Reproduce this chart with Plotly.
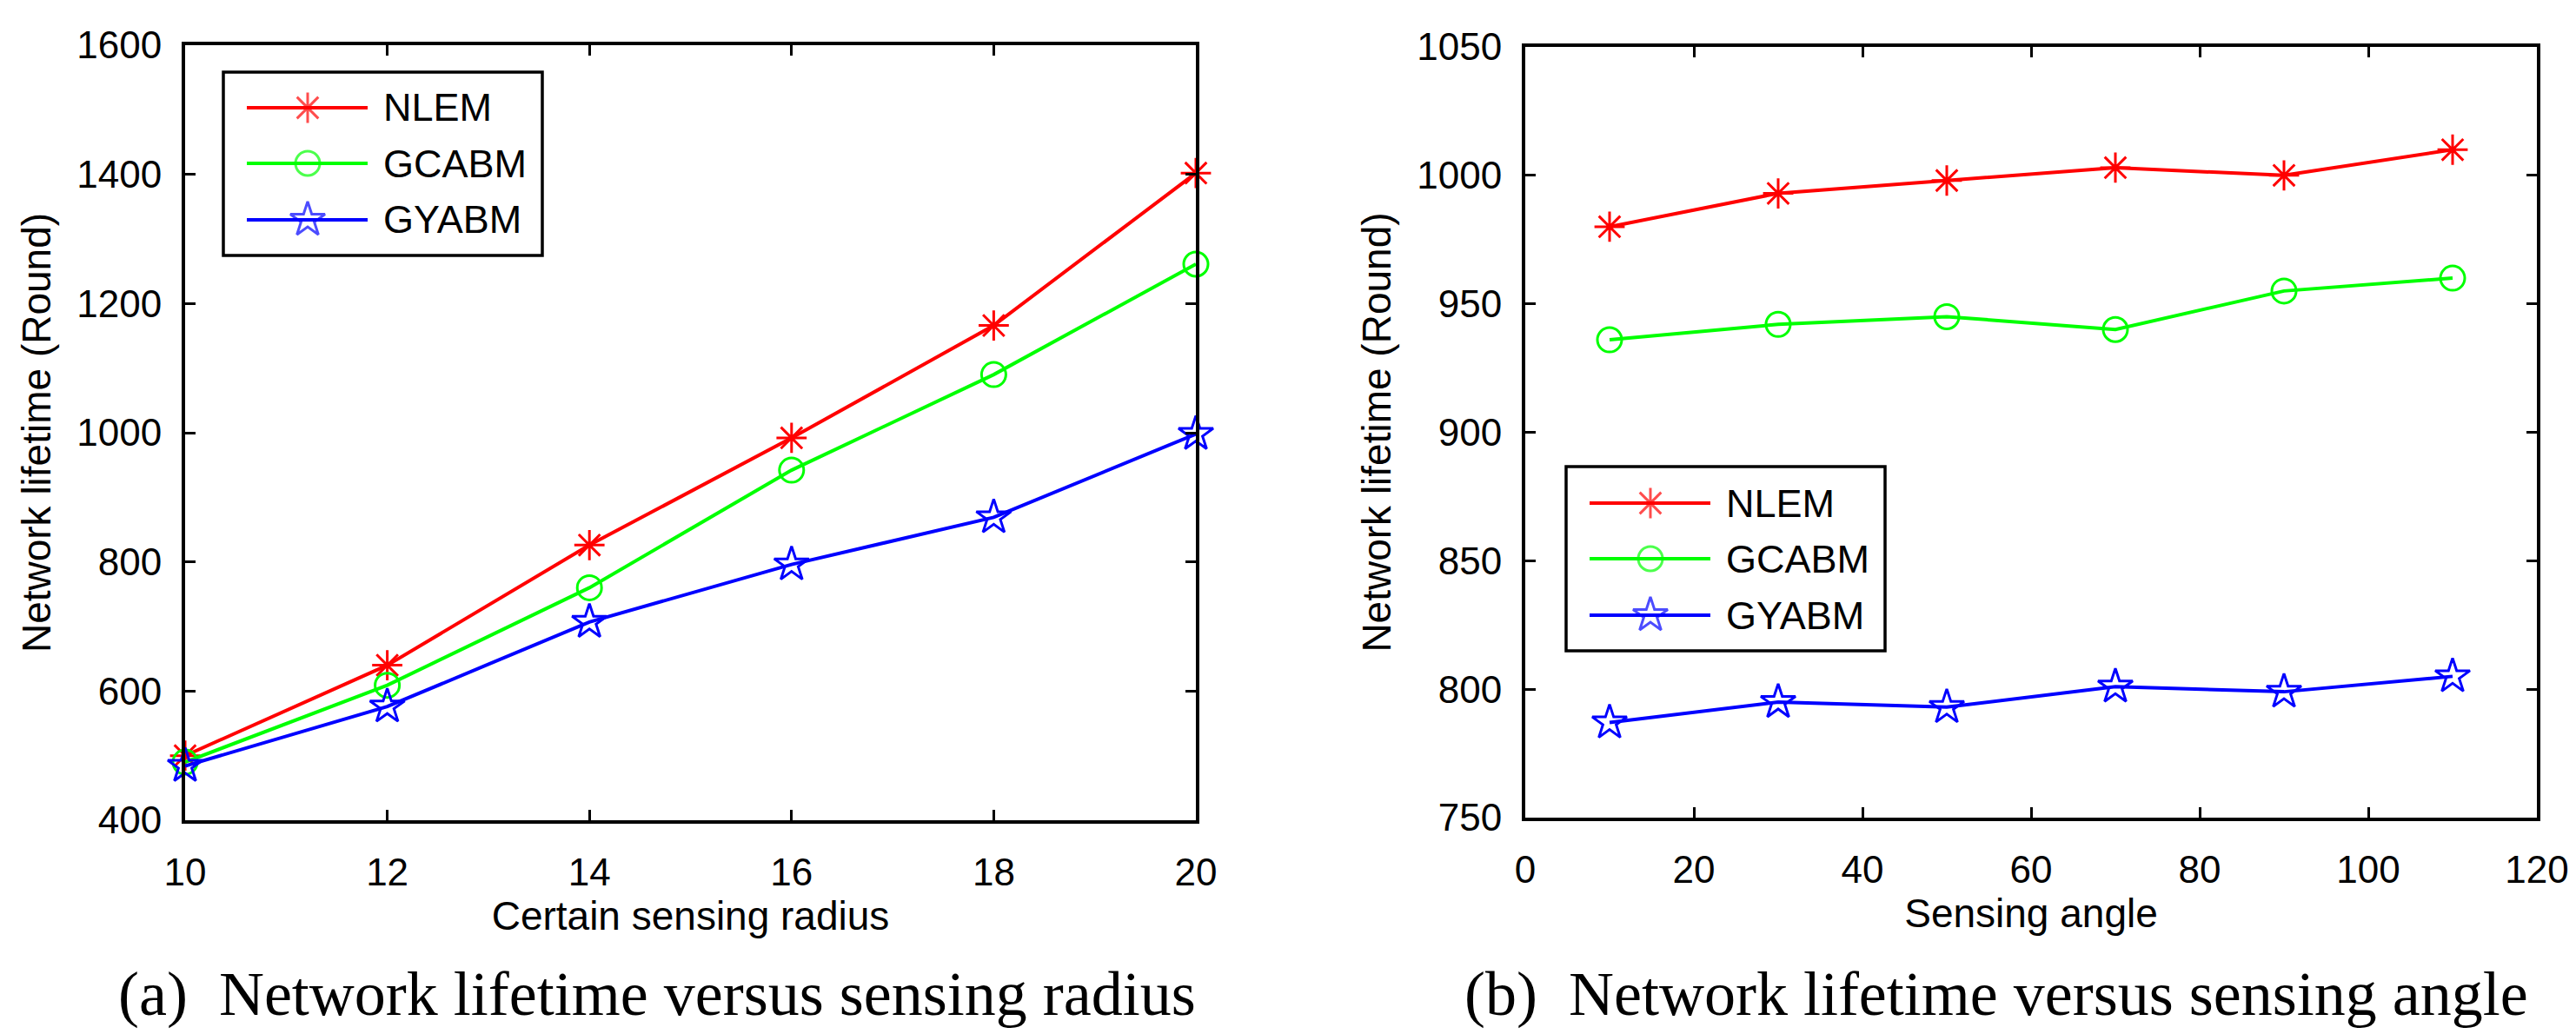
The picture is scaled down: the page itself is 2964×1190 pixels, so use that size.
import plotly.graph_objects as go

W, H = 2964, 1190

# panel (a): lifetime vs certain sensing radius
radius = [10, 12, 14, 16, 18, 20]
nlem_r = [500, 640, 826, 992, 1166, 1402]
gcabm_r = [490, 609, 760, 942, 1090, 1261]
gyabm_r = [484, 576, 707, 796, 869, 998]

# panel (b): lifetime vs sensing angle
angle = [10, 30, 50, 70, 90, 110]
nlem_a = [980, 993, 998, 1003, 1000, 1010]
gcabm_a = [936, 942, 945, 940, 955, 960]
gyabm_a = [787, 795, 793, 801, 799, 805]

names = ["NLEM", "GCABM", "GYABM"]
colors = ["#ff0000", "#00ff00", "#0000ff"]
symbols = ["asterisk-open", "circle-open", "star-open"]
sizes = [29, 28, 30]

TICK_FONT = dict(family="Liberation Sans, Arial", size=44, color="black")
TITLE_FONT = dict(family="Liberation Sans, Arial", size=46, color="black")
CAP_FONT = dict(family="Liberation Serif, Times New Roman", size=72, color="black")


def px(x):
    return x / W


def py(y):
    return 1 - y / H


def axis_style(**kw):
    d = dict(
        showline=True, linecolor="black", linewidth=4, mirror="ticks",
        ticks="inside", ticklen=12, tickwidth=3, tickcolor="black",
        showgrid=False, zeroline=False, tickfont=TICK_FONT,
        automargin=False,
    )
    d.update(kw)
    return d


fig = go.Figure()

for xs, series, xa, ya in [
    (radius, [nlem_r, gcabm_r, gyabm_r], "x", "y"),
    (angle, [nlem_a, gcabm_a, gyabm_a], "x2", "y2"),
]:
    for i, ys in enumerate(series):
        fig.add_trace(go.Scatter(
            x=xs, y=ys, mode="lines+markers", name=names[i],
            line=dict(color=colors[i], width=4),
            marker=dict(symbol=symbols[i], size=sizes[i],
                        color=colors[i], line=dict(color=colors[i], width=3)),
            cliponaxis=False, showlegend=False,
            xaxis=xa, yaxis=ya,
        ))

# hand-drawn MATLAB style legends (box, sample line, marker, label)
legends = [
    dict(box=(249, 75, 616, 286), rows=[116, 180, 245]),
    dict(box=(1794, 529, 2161, 741), rows=[571, 635, 700]),
]
shapes = []
annotations = []
for lg in legends:
    x0, y0, x1, y1 = lg["box"]
    shapes.append(dict(type="rect", xref="paper", yref="paper",
                       x0=px(x0), x1=px(x1), y0=py(y1), y1=py(y0),
                       line=dict(color="black", width=3.5),
                       fillcolor="rgba(0,0,0,0)", layer="above"))
    for i, ry in enumerate(lg["rows"]):
        fig.add_trace(go.Scatter(
            x=[x0 + 27, x0 + 97, x0 + 166], y=[ry, ry, ry],
            mode="lines+markers",
            line=dict(color=colors[i], width=4),
            marker=dict(symbol=symbols[i], size=[0, sizes[i], 0],
                        color=colors[i], line=dict(color=colors[i], width=3)),
            showlegend=False, hoverinfo="skip",
            xaxis="x3", yaxis="y3",
        ))
        annotations.append(dict(
            text=names[i], xref="paper", yref="paper",
            x=px(x0 + 182), y=py(ry), xanchor="left", yanchor="middle",
            showarrow=False, font=dict(family="Liberation Sans, Arial", size=45, color="black"),
        ))

annotations.append(dict(
    text="(a)\u2002Network lifetime versus sensing radius", xref="paper", yref="paper",
    x=px(748), y=py(1136), xanchor="center", yanchor="middle",
    showarrow=False, font=CAP_FONT,
))
annotations.append(dict(
    text="(b)\u2002Network lifetime versus sensing angle", xref="paper", yref="paper",
    x=px(2289), y=py(1136), xanchor="center", yanchor="middle",
    showarrow=False, font=CAP_FONT,
))

fig.update_layout(
    width=W, height=H,
    margin=dict(l=0, r=0, t=0, b=0),
    paper_bgcolor="white", plot_bgcolor="rgba(0,0,0,0)",
    showlegend=False,
    xaxis=axis_style(domain=[px(205), px(1368)], range=[10, 20], dtick=2,
                     anchor="y", ticklabelstandoff=18,
                     title=dict(text="Certain sensing radius", font=TITLE_FONT, standoff=8)),
    yaxis=axis_style(domain=[py(936), py(44)], range=[400, 1600], dtick=200,
                     anchor="x", ticklabelstandoff=14,
                     title=dict(text="Network lifetime (Round)", font=TITLE_FONT, standoff=16)),
    xaxis2=axis_style(domain=[px(1747), px(2911)], range=[0, 120], dtick=20,
                      anchor="y2", ticklabelstandoff=18,
                      title=dict(text="Sensing angle", font=TITLE_FONT, standoff=8)),
    yaxis2=axis_style(domain=[py(933), py(46)], range=[750, 1050], dtick=50,
                      anchor="x2", ticklabelstandoff=14,
                      title=dict(text="Network lifetime (Round)", font=TITLE_FONT, standoff=16)),
    xaxis3=dict(domain=[0, 1], range=[0, W], visible=False, fixedrange=True, anchor="y3"),
    yaxis3=dict(domain=[0, 1], range=[H, 0], visible=False, fixedrange=True, anchor="x3"),
    shapes=shapes,
    annotations=annotations,
)

fig.write_html("out.html")
